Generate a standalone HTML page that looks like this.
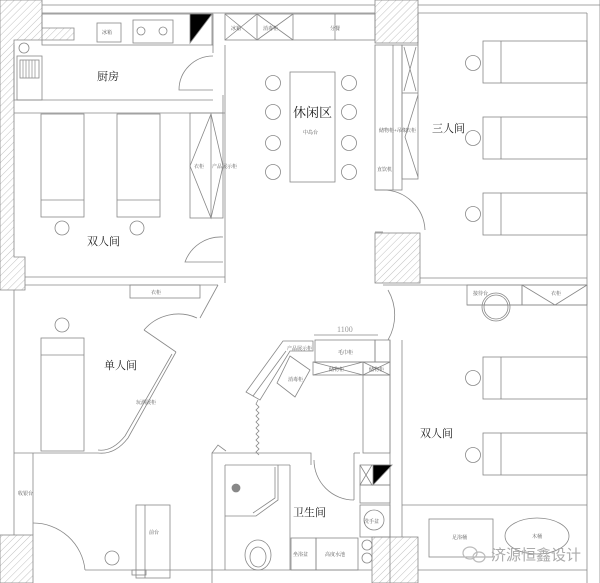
<!DOCTYPE html>
<html><head><meta charset="utf-8"><style>
html,body{margin:0;padding:0;background:#fff}
svg{display:block}
text{font-family:"Liberation Serif","Noto Serif CJK SC",serif;fill:#333}
.s{font-size:5px;fill:#555}
.l{font-size:11px;fill:#222}
</style></head><body>
<svg width="600" height="583" viewBox="0 0 600 583" xmlns="http://www.w3.org/2000/svg">
<defs>
<pattern id="h" width="5" height="5" patternUnits="userSpaceOnUse" patternTransform="rotate(45)">
<rect width="5" height="5" fill="#fff"/><line x1="0" y1="0" x2="0" y2="5" stroke="#999" stroke-width="0.6"/>
</pattern>
</defs>
<g fill="none" stroke="#888" stroke-width="0.8">
<path d="M0,0 H42 V28 H74 V40 H14 V257 H25 V290 H0 Z" fill="url(#h)"/>
<rect x="375" y="0" width="43" height="43" fill="url(#h)"/>
<rect x="375" y="233" width="45" height="50" fill="url(#h)"/>
<rect x="0" y="535" width="33" height="48" fill="url(#h)"/>
<rect x="372" y="537" width="46" height="46" fill="url(#h)"/>
<line x1="42" y1="5" x2="375" y2="5"/><line x1="42" y1="13" x2="375" y2="13"/>
<line x1="418" y1="5" x2="600" y2="5"/><line x1="418" y1="13" x2="587" y2="13"/>
<line x1="587" y1="13" x2="587" y2="583"/><line x1="600" y1="0" x2="600" y2="583"/>
<rect x="42" y="14" width="171" height="31"/>
<rect x="97" y="23" width="24" height="19"/>
<rect x="133" y="20" width="40" height="23"/>
<circle cx="141" cy="31" r="4"/><circle cx="163" cy="31" r="4"/>
<path d="M190,14 L212,14 L190,43 Z" fill="#000"/>
<line x1="212" y1="14" x2="212" y2="45"/>
<rect x="17" y="56" width="25" height="44"/>
<rect x="20" y="60" width="19" height="18"/>
<path d="M23,60 V78 M26,60 V78 M29,60 V78 M32,60 V78 M35,60 V78" stroke="#999"/>
<circle cx="24" cy="48" r="5"/>
<line x1="14" y1="100" x2="213" y2="100"/><line x1="14" y1="113" x2="225" y2="113"/>
<line x1="14" y1="45" x2="14" y2="100"/>
<path d="M213,56 A34,34 0 0 0 179,90 H213"/>
<line x1="213" y1="45" x2="213" y2="53"/><line x1="223" y1="95" x2="223" y2="113"/>
<line x1="225" y1="45" x2="225" y2="283"/>
<rect x="41" y="114" width="43" height="103"/><line x1="41" y1="200" x2="84" y2="200"/>
<rect x="117" y="114" width="43" height="103"/><line x1="117" y1="200" x2="160" y2="200"/>
<circle cx="62" cy="228" r="7"/><circle cx="137" cy="228" r="7"/>
<rect x="190" y="113" width="33" height="105"/>
<path d="M211,114 L190,166 L211,218 L223,166 Z"/><line x1="211" y1="114" x2="211" y2="218"/>
<path d="M223,237 A38,38 0 0 0 185,262 H223"/>
<line x1="25" y1="277" x2="225" y2="277"/><line x1="25" y1="285" x2="200" y2="285"/>
<rect x="225" y="14" width="150" height="26"/>
<line x1="257" y1="14" x2="257" y2="40"/><line x1="293" y1="14" x2="293" y2="40"/><line x1="335" y1="14" x2="335" y2="40"/>
<path d="M225,14 L257,40 M257,14 L225,40 M257,14 L293,40 M293,14 L257,40"/>
<rect x="290" y="72" width="45" height="110"/>
<circle cx="273" cy="83" r="7.5"/><circle cx="273" cy="112" r="7.5"/><circle cx="273" cy="143" r="7.5"/><circle cx="273" cy="172" r="7.5"/>
<circle cx="349" cy="83" r="7.5"/><circle cx="349" cy="112" r="7.5"/><circle cx="349" cy="143" r="7.5"/><circle cx="349" cy="172" r="7.5"/>
<rect x="375" y="45" width="27" height="145"/><line x1="393" y1="45" x2="393" y2="190"/>
<rect x="402" y="45" width="16" height="134"/><line x1="402" y1="93" x2="418" y2="93"/>
<path d="M404,47 L416,91 M416,47 L404,91 M418,95 L405,137 L418,177"/>
<path d="M383,190 A42,42 0 0 1 425,230"/><line x1="375" y1="190" x2="383" y2="190"/><line x1="375" y1="232" x2="383" y2="232"/>
<line x1="418" y1="13" x2="418" y2="45"/><line x1="420" y1="278" x2="587" y2="278"/>
<rect x="483" y="41" width="104" height="42"/><line x1="501" y1="41" x2="501" y2="83"/>
<rect x="483" y="117" width="104" height="42"/><line x1="501" y1="117" x2="501" y2="159"/>
<rect x="483" y="193" width="104" height="42"/><line x1="501" y1="193" x2="501" y2="235"/>
<circle cx="473" cy="63" r="7.5"/><circle cx="473" cy="138" r="7.5"/><circle cx="473" cy="214" r="7.5"/>
<line x1="383" y1="285" x2="587" y2="285"/><line x1="467" y1="305" x2="587" y2="305"/>
<rect x="467" y="285" width="55" height="20"/><rect x="522" y="285" width="65" height="20"/>
<path d="M522,285 L555,305 L587,285"/>
<circle cx="496" cy="307" r="12"/><circle cx="496" cy="307" r="14"/>
<path d="M388,290 A50,50 0 0 1 388,340"/>
<line x1="314" y1="335" x2="378" y2="335"/>
<rect x="315" y="340" width="60" height="22"/><rect x="375" y="340" width="15" height="22"/>
<rect x="313" y="362" width="50" height="13"/><rect x="363" y="362" width="27" height="13"/>
<path d="M313,362 L363,375 M363,362 L313,375 M363,362 L390,375 M390,362 L363,375"/>
<rect x="363" y="375" width="27" height="78"/>
<line x1="390" y1="340" x2="390" y2="583"/><line x1="402" y1="340" x2="402" y2="537"/>
<rect x="483" y="357" width="104" height="42"/><line x1="501" y1="357" x2="501" y2="399"/>
<rect x="483" y="433" width="104" height="42"/><line x1="501" y1="433" x2="501" y2="475"/>
<circle cx="473" cy="378" r="7.5"/><circle cx="473" cy="455" r="7.5"/>
<line x1="402" y1="505" x2="587" y2="505"/><line x1="418" y1="570" x2="587" y2="570"/>
<rect x="429" y="519" width="64" height="38"/>
<ellipse cx="537" cy="536" rx="32" ry="18"/>
<rect x="360" y="465" width="30" height="20"/>
<path d="M360,465 L372,485 M372,465 L360,485"/><path d="M373,465 L392,465 L373,485 Z" fill="#000"/>
<rect x="360" y="485" width="30" height="18"/>
<rect x="360" y="505" width="30" height="32"/><circle cx="374" cy="520" r="10"/>
<circle cx="367" cy="545" r="5"/><circle cx="367" cy="558" r="5"/>
<path d="M212,583 V453 H311 V465"/>
<line x1="225" y1="465" x2="225" y2="570"/><line x1="225" y1="465" x2="290" y2="465"/>
<line x1="212" y1="570" x2="372" y2="570"/>
<path d="M278,465 V500 L256,516 H225"/><path d="M275,467 V498 L253,513"/>
<circle cx="236" cy="488" r="4" fill="#888"/>
<ellipse cx="258" cy="555" rx="13" ry="15"/><ellipse cx="258" cy="557" rx="8" ry="10"/>
<line x1="290" y1="465" x2="290" y2="570"/>
<rect x="291" y="538" width="25" height="32"/><rect x="316" y="538" width="42" height="32"/>
<path d="M314,460 A40,40 0 0 0 354,500"/><line x1="354" y1="453" x2="354" y2="500"/><line x1="354" y1="453" x2="360" y2="453"/>
<path d="M283,341 H313 V351 H290 L260,400 L246,392 Z"/>
<line x1="286" y1="351" x2="253" y2="396"/>
<path d="M290,356 L310,370 L295,397 L277,383 Z"/>
<path d="M258,400 l-2,4 l3,3 l-3,3 l3,3 l-3,3 l3,3 l-3,3 l3,3 l-3,3 l3,3 l-3,3 l3,3 l-3,3 l3,3 l-3,3 l3,3 l-3,3 l3,3"/>
<path d="M212,453 L218,445 L226,451"/>
<line x1="14" y1="290" x2="14" y2="535"/>
<rect x="130" y="285" width="70" height="13"/>
<line x1="200" y1="285" x2="218" y2="285"/><line x1="218" y1="285" x2="200" y2="318"/>
<path d="M144,330 A45,45 0 0 1 197,318"/>
<line x1="144" y1="330" x2="176" y2="352"/>
<path d="M176,352 L128,438 Q115,455 98,453 H14"/><path d="M172,354 L125,436 Q112,452 98,450"/>
<rect x="41" y="338" width="43" height="113"/><line x1="41" y1="355" x2="84" y2="355"/>
<circle cx="62" cy="325" r="7"/>
<line x1="33" y1="453" x2="33" y2="535"/>
<path d="M33,523 A52,52 0 0 1 85,570"/>
<line x1="85" y1="570" x2="212" y2="570"/>
<rect x="136" y="505" width="34" height="73"/><line x1="145" y1="505" x2="145" y2="578"/>
<rect x="132" y="570" width="14" height="5"/>
<circle cx="112" cy="558" r="7"/>
</g>
<text class="l" x="97" y="80">厨房</text>
<text class="l" x="87" y="245">双人间</text>
<text class="l" x="293" y="117" style="font-size:13px">休闲区</text>
<text class="s" x="303" y="134">中岛台</text>
<text class="l" x="432" y="132">三人间</text>
<text class="l" x="104" y="369">单人间</text>
<text class="l" x="420" y="437">双人间</text>
<text class="l" x="293" y="516">卫生间</text>
<text x="337" y="332" style="font-size:8px;fill:#999">1100</text>
<text class="s" x="102" y="34">冰箱</text>
<text class="s" x="231" y="30">冰箱</text><text class="s" x="263" y="30">消毒柜</text><text class="s" x="330" y="30">分餐</text>
<text class="s" x="194" y="168">衣柜</text><text class="s" x="212" y="168">产品展示柜</text>
<text class="s" x="379" y="132">储物柜+吊架</text>
<text class="s" x="377" y="171">直饮机</text>
<text class="s" x="406" y="132">衣柜</text>
<text class="s" x="151" y="294">衣柜</text>
<text class="s" x="136" y="404">玩酒展柜</text>
<text class="s" x="287" y="350">产品展示柜</text>
<text class="s" x="288" y="381">消毒柜</text>
<text class="s" x="338" y="354">毛巾柜</text><text class="s" x="329" y="371">储物柜</text><text class="s" x="369" y="371">储物柜</text>
<text class="s" x="473" y="295">接待台</text><text class="s" x="551" y="295">衣柜</text>
<text class="s" x="364" y="523">洗手盆</text>
<text class="s" x="293" y="556">坐浴盆</text><text class="s" x="325" y="556">高度水池</text>
<text class="s" x="149" y="534">前台</text>
<text class="s" x="18" y="495">收银台</text>
<text class="s" x="452" y="539">足浴桶</text><text class="s" x="532" y="538">木桶</text>
<g fill="none" stroke="#bbb" stroke-width="1.2"><ellipse cx="470" cy="553" rx="7" ry="6"/><ellipse cx="479" cy="557" rx="6" ry="5"/></g>
<text x="491" y="560" style="font-size:15px;fill:#aaa;font-family:'Liberation Sans','Noto Sans CJK SC',sans-serif">济源恒鑫设计</text>
</svg>
</body></html>
